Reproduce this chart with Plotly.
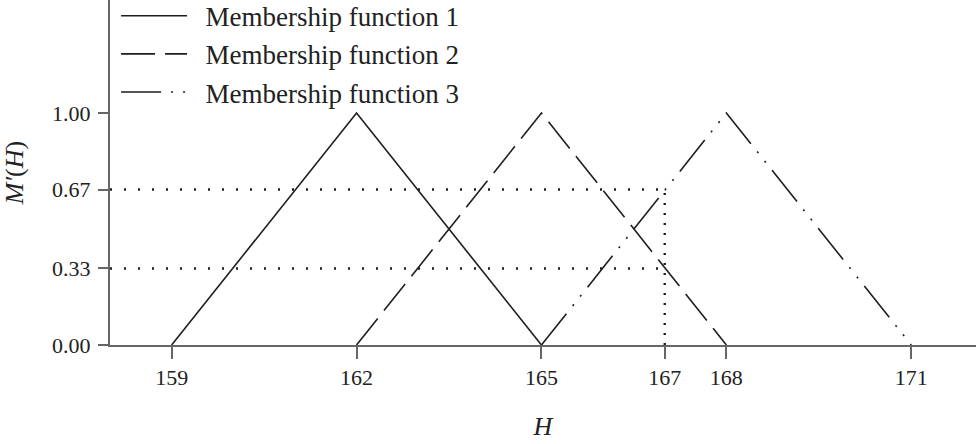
import plotly.graph_objects as go

# Data
mf_names = ["Membership function 1", "Membership function 2", "Membership function 3"]
mf1_h = [159, 162, 165]
mf2_h = [162, 165, 168]
mf3_h = [165, 168, 171]
mf_mu = [0.0, 1.0, 0.0]
guide_levels = [0.33, 0.67]
guide_h = 167
x_ticks = [159, 162, 165, 167, 168, 171]
y_ticks = [0.0, 0.33, 0.67, 1.0]
y_tick_text = ["0.00", "0.33", "0.67", "1.00"]

FONT = "Liberation Serif, Times New Roman, serif"
LINE = "#1e1e1e"
AXIS = "#666666"
TXT = "#222222"
x_min, x_max = 158.0, 172.05
y_min, y_max = 0.0, 1.487

fig = go.Figure()

dashes = ["solid", "34px,10px", "40px,10px,2px,10px,2px,10px"]
for name, hs, d in zip(mf_names, [mf1_h, mf2_h, mf3_h], dashes):
    fig.add_trace(go.Scatter(x=hs, y=mf_mu, mode="lines", name="\u00a0\u00a0" + name,
                             line=dict(color=LINE, width=1.6, dash=d)))

# dotted guide lines
for lv in guide_levels:
    fig.add_trace(go.Scatter(x=[x_min, guide_h], y=[lv, lv], mode="lines", showlegend=False,
                             line=dict(color=LINE, width=2.4, dash="2px,12px")))
fig.add_trace(go.Scatter(x=[guide_h, guide_h], y=[0, guide_levels[-1]], mode="lines", showlegend=False,
                         line=dict(color=LINE, width=2.4, dash="2px,8px")))

fig.update_layout(
    width=976, height=444,
    margin=dict(l=110, r=0, t=0, b=99, autoexpand=False),
    plot_bgcolor="white", paper_bgcolor="white",
    font=dict(family=FONT, color=TXT),
    legend=dict(x=0.007, y=1.024, xanchor="left", yanchor="top",
                font=dict(size=27, family=FONT, color=TXT),
                itemwidth=66, bgcolor="rgba(0,0,0,0)", tracegroupgap=0),
    xaxis=dict(range=[x_min, x_max], tickvals=x_ticks, ticks="outside", ticklen=12,
               tickcolor=AXIS, tickwidth=1.5, showline=True, linecolor=AXIS, linewidth=2,
               showgrid=False, zeroline=False, tickfont=dict(size=22, family=FONT, color=TXT),
               title=dict(text="<i>H</i>", font=dict(size=26, family=FONT, color=TXT), standoff=27)),
    yaxis=dict(range=[y_min, y_max], tickvals=y_ticks, ticktext=y_tick_text, ticks="outside",
               ticklen=10, tickcolor=AXIS, tickwidth=1.5, showline=True, linecolor=AXIS, linewidth=2,
               ticklabelstandoff=3,
               showgrid=False, zeroline=False, tickfont=dict(size=22, family=FONT, color=TXT),
               title=dict(text="<i>M′</i>(<i>H</i>)", font=dict(size=26, family=FONT, color=TXT), standoff=22)),
)

fig.write_html("out.html")
